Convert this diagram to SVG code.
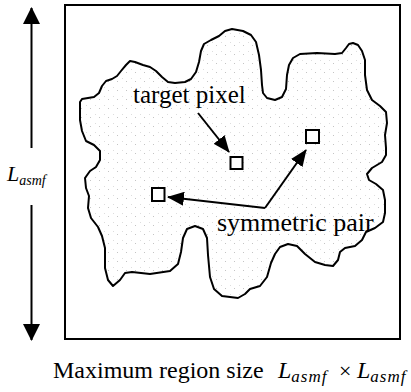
<svg xmlns="http://www.w3.org/2000/svg" width="411" height="392" viewBox="0 0 411 392">
<style>
.ln{stroke:#000;stroke-width:2;fill:none}
.px{stroke:#000;stroke-width:2;fill:#fff}
text{font-family:'Liberation Serif','Times New Roman',serif;fill:#000}
.i{font-style:italic}
</style>
<defs>
<pattern id="dots" width="9" height="9" patternUnits="userSpaceOnUse">
<rect x="0" y="0" width="1" height="1" fill="#c4c4c4"/>
<rect x="5" y="6" width="1" height="1" fill="#dddddd"/>
</pattern>
<marker id="ah" markerUnits="userSpaceOnUse" markerWidth="18" markerHeight="14" refX="16" refY="7" orient="auto">
<path d="M0,0 L17,7 L0,14 Z" fill="#000"/>
</marker>
<marker id="big" markerUnits="userSpaceOnUse" markerWidth="18" markerHeight="18" refX="16" refY="9" orient="auto">
<path d="M0,0.5 L17,9 L0,17.5 Z" fill="#000"/>
</marker>
</defs>
<rect width="411" height="392" fill="#fff"/>
<g id="frame">
<rect x="65" y="5" width="335" height="334" class="ln"/>
</g>
<g id="region">
<path class="ln" stroke-linejoin="round" style="fill:url(#dots)" d="M80,102 L82,99 L88,98 L94,97 L99,93 L102,86 L106,81 L112,79 L117,76 L121,71 L126,65 L130,61 L135,62 L143,65 L150,67 L156,71 L162,77 L168,82 L175,83 L185,82 L191,79 L196,72 L199,62 L201,51 L204,44 L211,40 L219,36 L225,31 L232,29 L243,31 L251,35 L256,42 L259,55 L261,70 L262,85 L263,93 L267,98 L275,100 L282,97 L286,89 L287,75 L289,65 L293,58 L300,54 L317,53 L335,54 L342,53 L346,48 L349,44 L353,43 L358,45 L362,51 L365,60 L365,75 L367,90 L372,100 L380,106 L386,112 L387,123 L385,135 L386,148 L386,155 L382,162 L372,168 L367,174 L369,180 L376,184 L383,190 L385,200 L385,213 L383,222 L375,228 L366,232 L362,240 L355,246 L345,248 L340,252 L338,260 L333,266 L325,265 L315,262 L305,254 L297,246 L288,244 L280,247 L275,254 L271,263 L267,277 L260,286 L250,289 L245,294 L238,298 L222,296 L214,289 L210,277 L208,255 L207,238 L203,229 L195,226 L187,229 L183,238 L181,252 L178,264 L170,271 L150,274 L132,272 L125,273 L120,280 L113,286 L108,280 L105,268 L105,248 L102,236 L98,227 L91,218 L88,208 L89,196 L86,188 L85,178 L90,171 L96,167 L100,160 L100,151 L94,145 L86,141 L82,131 L80,120 Z"/>
</g>
<g id="target-pixel">
<rect x="230.5" y="157" width="12" height="12" class="px"/>
</g>
<g id="pair-left">
<rect x="152" y="188" width="12.5" height="13" class="px"/>
</g>
<g id="pair-right">
<rect x="306" y="130" width="13" height="13" class="px"/>
</g>
<g id="connectors">
<line x1="31.5" y1="148" x2="31.5" y2="8" class="ln" marker-end="url(#big)"/>
<line x1="31.5" y1="205" x2="31.5" y2="340" class="ln" marker-end="url(#big)"/>
<line x1="198" y1="113" x2="229" y2="152" class="ln" marker-end="url(#ah)"/>
<line x1="265" y1="208" x2="168" y2="197" class="ln" marker-end="url(#ah)"/>
<line x1="265" y1="208" x2="306" y2="150" class="ln" marker-end="url(#ah)"/>
</g>
<g id="labels">
<text x="133" y="103" font-size="25">target pixel</text>
<text x="217" y="231" font-size="26">symmetric pair</text>
<text class="i" x="7" y="181" font-size="22">L<tspan font-size="14" dy="4">asmf</tspan></text>
<text x="53" y="378" font-size="24">Maximum region size</text>
<text class="i" x="278" y="378" font-size="24">L<tspan font-size="17" dy="4" letter-spacing="1">asmf</tspan></text>
<text x="339" y="378" font-size="22">×</text>
<text class="i" x="357" y="378" font-size="24">L<tspan font-size="17" dy="4" letter-spacing="1">asmf</tspan></text>
</g>
</svg>
